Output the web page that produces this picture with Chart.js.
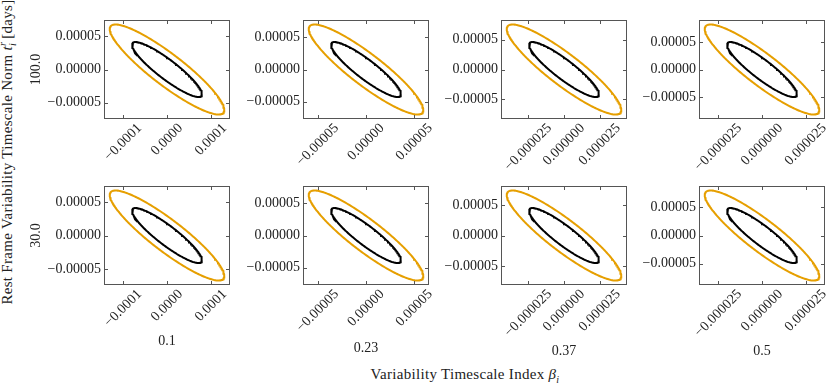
<!DOCTYPE html>
<html>
<head>
<meta charset="utf-8">
<script src="https://cdn.jsdelivr.net/npm/chart.js@4/dist/chart.umd.min.js"></script>
<style>
  html, body { margin:0; padding:0; background:#fff; }
  #wrap { position:relative; width:830px; height:386px; overflow:hidden; }
  canvas { position:absolute; left:0; top:0; }
  .lbl { position:absolute; font-family:"Liberation Serif", serif; font-size:15px; color:#222; white-space:nowrap; letter-spacing:0.3px; }
</style>
</head>
<body>
<div id="wrap">
  <div class="lbl" id="ylab" style="left:7px; top:152px; transform:translate(-50%,-50%) rotate(-90deg);">Rest Frame Variability Timescale Norm <i>t</i><sup style="font-size:10px"><i>r</i></sup><sub style="font-size:10px;margin-left:-4px"><i>i</i></sub> [days]</div>
  <div class="lbl" id="xlab" style="left:465px; top:375px; transform:translate(-50%,-50%);">Variability Timescale Index <i>β</i><sub style="font-size:10px"><i>i</i></sub></div>
</div>
<script>
// ---- data ----
const betaLabels = ["0.1", "0.23", "0.37", "0.5"];        // columns: variability timescale index
const normLabels = ["100.0", "30.0"];                     // rows: rest-frame timescale norm
// 1-sigma widths (Fisher forecast) of the two parameters per panel, row-major
const sigmaX = [5.25e-5, 2.39e-5, 1.61e-5, 1.32e-5,
                5.25e-5, 2.39e-5, 1.61e-5, 1.32e-5];
const sigmaY = [2.74e-5, 2.83e-5, 3.02e-5, 3.29e-5,
                2.70e-5, 2.83e-5, 2.97e-5, 3.23e-5];
const rho    = [-0.90, -0.90, -0.90, -0.90,
                -0.90, -0.90, -0.90, -0.90];
const deltaChi2 = [2.30, 6.17];                           // 1σ and 2σ contours
const contourColors = ["#000000", "#E69F00"];
// tick values and labels per column
const xTickValues = [[-1e-4, 0, 1e-4], [-5e-5, 0, 5e-5], [-2.5e-5, 0, 2.5e-5], [-2.5e-5, 0, 2.5e-5]];
const xTickLabels = [["−0.0001", "0.0000", "0.0001"],
                     ["−0.00005", "0.00000", "0.00005"],
                     ["−0.000025", "0.000000", "0.000025"],
                     ["−0.000025", "0.000000", "0.000025"]];
const yTickValues = [-5e-5, 0, 5e-5];
const yTickLabels = ["−0.00005", "0.00000", "0.00005"];

// ---- layout ----
const W = 830, H = 386;
const plotLeft = [104, 303, 501, 699];
const plotW = 126;
const plotTop = [20, 186];
const plotH = 99;
const bottomAxisH = [69, 76, 79, 79];

const FONT = { family: "'Liberation Serif', serif", size: 14 };
const TXT = '#222';

const framePlugin = {
  id: 'frame',
  beforeDraw(chart) {
    // centre each rotated x tick label under its tick (matplotlib style)
    const sx = chart.scales.x;
    const items = sx.getLabelItems(chart.chartArea);
    const ctx = chart.ctx;
    ctx.save();
    ctx.font = `${FONT.size}px ${FONT.family}`;
    items.forEach(it => {
      if (it._shifted) return;
      const w = ctx.measureText(it.label).width;
      it.options.translation[0] += w * 0.354;
      it.options.translation[1] -= 2;
      it._shifted = true;
    });
    ctx.restore();
  },
  afterDatasetsDraw(chart) {
    const { ctx, chartArea: { left, right, top, bottom }, scales: { x, y } } = chart;
    ctx.save();
    ctx.strokeStyle = '#555';
    ctx.lineWidth = 1;
    ctx.strokeRect(left + 0.5, top + 0.5, right - left - 1, bottom - top - 1);
    ctx.beginPath();
    const L = 4;
    x.ticks.forEach(t => {
      const p = Math.round(x.getPixelForValue(t.value)) + 0.5;
      ctx.moveTo(p, bottom); ctx.lineTo(p, bottom - L);
      ctx.moveTo(p, top); ctx.lineTo(p, top + L);
    });
    y.ticks.forEach(t => {
      const p = Math.round(y.getPixelForValue(t.value)) + 0.5;
      ctx.moveTo(left, p); ctx.lineTo(left + L, p);
      ctx.moveTo(right, p); ctx.lineTo(right - L, p);
    });
    ctx.stroke();
    ctx.restore();
  }
};

function ellipse(sx, sy, r, d2) {
  const k = Math.sqrt(d2), pts = [], n = 240, c = Math.sqrt(1 - r * r);
  for (let i = 0; i <= n; i++) {
    const t = 2 * Math.PI * i / n;
    pts.push({ x: k * sx * Math.cos(t), y: k * sy * (r * Math.cos(t) + c * Math.sin(t)) });
  }
  return pts;
}

const wrap = document.getElementById('wrap');
for (let row = 0; row < 2; row++) {
  for (let col = 0; col < 4; col++) {
    const idx = row * 4 + col;
    const cv = document.createElement('canvas');
    cv.width = W; cv.height = H;
    cv.style.width = W + 'px'; cv.style.height = H + 'px';
    wrap.appendChild(cv);

    const datasets = deltaChi2.map((d2, j) => ({
      data: ellipse(sigmaX[idx], sigmaY[idx], rho[idx], d2),
      borderColor: contourColors[j],
      borderWidth: 2,
      showLine: true,
      pointRadius: 0,
      fill: false,
      tension: 0
    }));
    const outer = deltaChi2[deltaChi2.length - 1];
    const xr = Math.sqrt(outer) * sigmaX[idx] * 1.1;
    const yr = Math.sqrt(outer) * sigmaY[idx] * 1.1;

    const yW = col === 0 ? 80 : 72;
    const xH = row === 1 ? bottomAxisH[col] : 60;

    new Chart(cv, {
      type: 'scatter',
      data: { datasets },
      plugins: [framePlugin],
      options: {
        responsive: false,
        animation: false,
        devicePixelRatio: 1,
        layout: {
          padding: {
            left: plotLeft[col] - yW,
            right: W - plotLeft[col] - plotW,
            top: plotTop[row],
            bottom: H - plotTop[row] - plotH - xH
          }
        },
        plugins: { legend: { display: false }, tooltip: { enabled: false } },
        scales: {
          x: {
            type: 'linear', min: -xr, max: xr,
            grid: { display: false, drawTicks: false },
            border: { display: false },
            afterBuildTicks: s => { s.ticks = xTickValues[col].map(v => ({ value: v })); },
            afterFit: s => { s.height = xH; },
            ticks: {
              autoSkip: false, minRotation: 45, maxRotation: 45, padding: 3,
              font: FONT, color: TXT,
              callback: (v, i) => xTickLabels[col][i]
            },
            title: { display: row === 1, text: betaLabels[col], font: FONT, color: TXT, padding: { top: 4, bottom: 4 } }
          },
          y: {
            type: 'linear', min: -yr, max: yr,
            grid: { display: false, drawTicks: false },
            border: { display: false },
            afterBuildTicks: s => { s.ticks = yTickValues.map(v => ({ value: v })); },
            afterFit: s => { s.width = yW; },
            ticks: {
              padding: 3, font: FONT, color: TXT,
              callback: (v, i) => yTickLabels[i]
            },
            title: { display: col === 0, text: normLabels[row], font: FONT, color: TXT, padding: { top: 4, bottom: 4 } }
          }
        }
      }
    });
  }
}
</script>
</body>
</html>
